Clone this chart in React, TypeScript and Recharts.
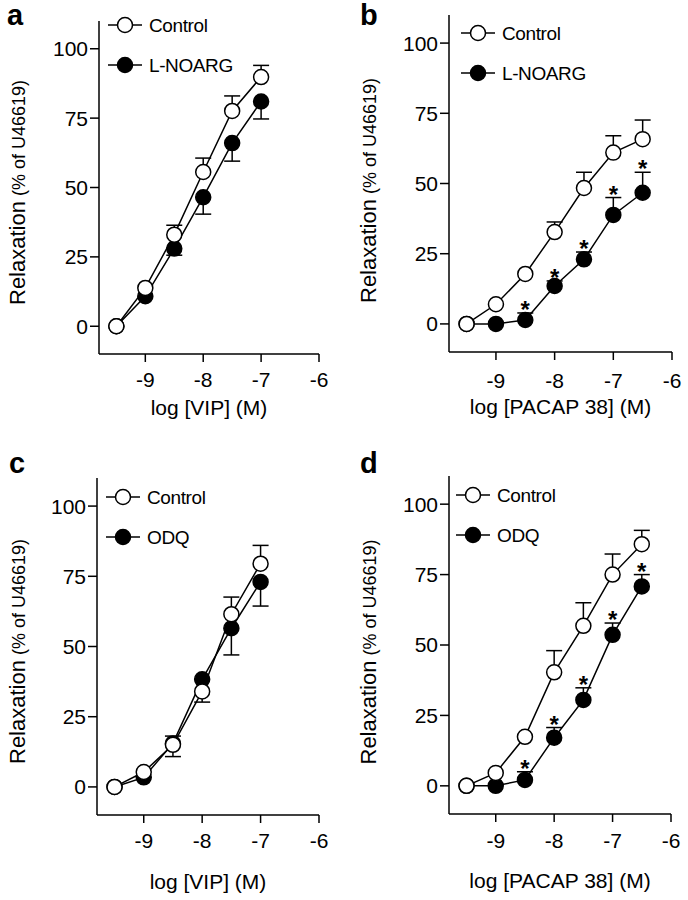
import {
  ComposedChart, Legend, Line, Scatter, XAxis, YAxis,
} from "recharts";

const FONT = '"Liberation Sans", Arial, Helvetica, sans-serif';

// log molar concentrations
const vipDoses = [-9.5, -9, -8.5, -8, -7.5, -7];
const pacapDoses = [-9.5, -9, -8.5, -8, -7.5, -7, -6.5];
const xTicks = [-9, -8, -7, -6];
const yTicks = [0, 25, 50, 75, 100];

// a: VIP, control vs L-NOARG
const aControl = [0, 13.8, 33, 55.6, 77.6, 89.8];
const aControlErr = [0, 0, 3.4, 5, 5.4, 4.2];
const aNoarg = [0, 10.8, 28, 46.5, 66, 81];
const aNoargErr = [0, 0, 2.4, 6.1, 6.5, 6.3];

// b: PACAP 38, control vs L-NOARG
const bControl = [0, 7, 17.8, 32.7, 48.4, 61, 65.8];
const bControlErr = [0, 0, 0, 3.6, 5.6, 6, 6.8];
const bNoarg = [0, 0, 1.4, 13.5, 23, 38.8, 46.7];
const bNoargErr = [0, 0, 2.5, 1.8, 2.6, 6.2, 7.3];
const bStars = [false, false, true, true, true, true, true];

// c: VIP, control vs ODQ
const cControl = [0, 5.3, 15, 34, 61.5, 79.5];
const cControlErr = [0, 0, 3.1, 0, 6.1, 6.5];
const cOdq = [0, 3.4, 15.5, 38.3, 56.5, 73];
const cOdqErr = [0, 0, 4.7, 8.1, 9.5, 8.6];

// d: PACAP 38, control vs ODQ
const dControl = [0, 4.6, 17.4, 40.3, 56.8, 75, 85.8];
const dControlErr = [0, 0, 0, 7.7, 8.2, 7.3, 4.9];
const dOdq = [0, 0, 2.1, 17.1, 30.5, 53.6, 70.8];
const dOdqErr = [0, 0, 2.9, 3.6, 4.3, 4.2, 4.2];
const dStars = [false, false, true, true, true, true, true];

type Geo = {
  left: number; top: number; h: number;
  plotL: number; plotR: number; plotT: number; plotB: number;
  tickGap: number; xLabelDy: number; yLabelX: number; yLabelDy: number;
  legX: number; legY: number;
};

type PanelProps = {
  xLabel: string;
  treatedName: string;
  doses: number[];
  control: number[];
  controlErr: number[];
  treated: number[];
  treatedErr: number[];
  treatedUp: boolean;
  stars?: boolean[];
  geo: Geo;
};

const W = 344;
const AXIS_H = 80;

function StarShape(props: any) {
  return (
    <text x={props.cx} y={props.cy + 5} textAnchor="middle" fontSize={24}
          fontWeight="bold" fontFamily={FONT} fill="#000">*</text>
  );
}

// the far end of an error bar gets a cap, the near end stays under the marker
function CapDot(props: any) {
  if (props.index !== 1) return <g key={props.key} />;
  return (
    <line key={props.key} x1={props.cx - 8} x2={props.cx + 8} y1={props.cy} y2={props.cy}
          stroke="#000" strokeWidth={1.5} />
  );
}

// one two-point segment per error bar: from the mean to mean ± SEM
function errSegments(doses: number[], mean: number[], err: number[], up: boolean, tag: string) {
  return doses
    .map((x, i) => ({
      key: `${tag}${i}`,
      err: err[i],
      data: [{ x, e: mean[i] }, { x, e: up ? mean[i] + err[i] : mean[i] - err[i] }],
    }))
    .filter((s) => s.err > 0);
}

function Panel(p: PanelProps) {
  const g = p.geo;
  const H = g.h;
  const rows = p.doses.map((x, i) => ({ x, control: p.control[i], treated: p.treated[i] }));
  const segs = [
    ...errSegments(p.doses, p.treated, p.treatedErr, p.treatedUp, "t"),
    ...errSegments(p.doses, p.control, p.controlErr, true, "c"),
  ];
  const starRows = p.stars
    ? p.doses
        .map((x, i) => ({ x, star: p.treated[i] + p.treatedErr[i], on: p.stars![i] }))
        .filter((r) => r.on)
    : [];

  const legendContent = () => {
    const items = [
      { name: "Control", fill: "#fff" },
      { name: p.treatedName, fill: "#000" },
    ];
    return (
      <svg width={170} height={70} style={{ display: "block" }}>
        {items.map((it, i) => {
          const cy = 12 + i * 40;
          return (
            <g key={it.name}>
              <line x1={3} x2={37} y1={cy} y2={cy} stroke="#000" strokeWidth={1.5} />
              <circle cx={20} cy={cy} r={7.5} fill={it.fill} stroke="#000" strokeWidth={1.5} />
              <text x={44} y={cy + 7} fontSize={19} fontFamily={FONT} fill="#000"
                    letterSpacing={-0.4}>{it.name}</text>
            </g>
          );
        })}
      </svg>
    );
  };

  const yLabel = (lp: any) => {
    const vb = lp.viewBox;
    const cy = vb.y + vb.height / 2 + g.yLabelDy;
    const bx = g.yLabelX;
    return (
      <text x={bx} y={cy} transform={`rotate(-90 ${bx} ${cy})`} textAnchor="middle"
            fontFamily={FONT} fill="#000">
        <tspan fontSize={22}>Relaxation</tspan>
        <tspan fontSize={18}> (% of U46619)</tspan>
      </text>
    );
  };

  const xLabel = (lp: any) => {
    const vb = lp.viewBox;
    return (
      <text x={vb.x + vb.width / 2} y={vb.y + g.xLabelDy} textAnchor="middle"
            fontSize={21} fontFamily={FONT} fill="#000">{p.xLabel}</text>
    );
  };

  const dotStyle = (fill: string) => ({ r: 7.5, fill, stroke: "#000", strokeWidth: 1.5 });

  return (
    <div style={{ position: "absolute", left: g.left, top: g.top, width: W, height: H }}>
      <ComposedChart width={W} height={H} data={rows}
        margin={{ top: g.plotT, right: W - g.plotR, left: 0, bottom: H - g.plotB - AXIS_H }}>
        <XAxis type="number" dataKey="x" domain={[-9.8, -6]} ticks={xTicks}
          allowDataOverflow height={AXIS_H} tickSize={8} tickMargin={g.tickGap}
          axisLine={{ stroke: "#000", strokeWidth: 1.5 }}
          tickLine={{ stroke: "#000", strokeWidth: 1.5 }}
          tick={{ fill: "#000", fontSize: 21, fontFamily: FONT }}
          label={xLabel} />
        <YAxis type="number" domain={[-10, 110]} ticks={yTicks} allowDataOverflow
          width={g.plotL} tickSize={9} tickMargin={2}
          axisLine={{ stroke: "#000", strokeWidth: 1.5 }}
          tickLine={{ stroke: "#000", strokeWidth: 1.5 }}
          tick={{ fill: "#000", fontSize: 21, fontFamily: FONT }}
          label={yLabel} />
        <Legend layout="vertical" align="center" verticalAlign="middle"
          wrapperStyle={{ left: g.legX, top: g.legY, width: 170, height: 70 }}
          content={legendContent} />
        {segs.map((s) => (
          <Line key={s.key} data={s.data} dataKey="e" type="linear" stroke="#000"
            strokeWidth={1.5} dot={CapDot} activeDot={false} legendType="none"
            isAnimationActive={false} />
        ))}
        <Line type="linear" dataKey="treated" name={p.treatedName} stroke="#000"
          strokeWidth={1.5} isAnimationActive={false} activeDot={false}
          dot={dotStyle("#000")} />
        <Line type="linear" dataKey="control" name="Control" stroke="#000"
          strokeWidth={1.5} isAnimationActive={false} activeDot={false}
          dot={dotStyle("#fff")} />
        {starRows.length > 0 && (
          <Scatter data={starRows} dataKey="star" shape={StarShape}
            legendType="none" isAnimationActive={false} />
        )}
      </ComposedChart>
    </div>
  );
}

const geoA: Geo = { left: 0, top: 0, h: 440, plotL: 99, plotR: 319, plotT: 21, plotB: 354,
  tickGap: 10, xLabelDy: 61, yLabelX: 25, yLabelDy: 5, legX: 105, legY: 13 };
const geoB: Geo = { left: 344, top: 0, h: 440, plotL: 105, plotR: 328, plotT: 15, plotB: 352,
  tickGap: 13, xLabelDy: 62, yLabelX: 32, yLabelDy: 7, legX: 114, legY: 21 };
const geoC: Geo = { left: 0, top: 440, h: 460, plotL: 97, plotR: 319, plotT: 38, plotB: 375,
  tickGap: 10, xLabelDy: 74, yLabelX: 25, yLabelDy: 5, legX: 103, legY: 45 };
const geoD: Geo = { left: 344, top: 440, h: 460, plotL: 105, plotR: 327, plotT: 36, plotB: 374,
  tickGap: 11, xLabelDy: 74, yLabelX: 32, yLabelDy: 7, legX: 109, legY: 43 };

const panelLetters = [
  { t: "a", x: 7, y: 25 },
  { t: "b", x: 360, y: 25 },
  { t: "c", x: 9, y: 473 },
  { t: "d", x: 360, y: 473 },
];

export default function App() {
  return (
    <div style={{ position: "absolute", left: 0, top: 0, width: 688, height: 900, background: "#fff" }}>
      <Panel xLabel="log [VIP] (M)" treatedName="L-NOARG" doses={vipDoses}
        control={aControl} controlErr={aControlErr} treated={aNoarg} treatedErr={aNoargErr}
        treatedUp={false} geo={geoA} />
      <Panel xLabel="log [PACAP 38] (M)" treatedName="L-NOARG" doses={pacapDoses}
        control={bControl} controlErr={bControlErr} treated={bNoarg} treatedErr={bNoargErr}
        treatedUp={true} stars={bStars} geo={geoB} />
      <Panel xLabel="log [VIP] (M)" treatedName="ODQ" doses={vipDoses}
        control={cControl} controlErr={cControlErr} treated={cOdq} treatedErr={cOdqErr}
        treatedUp={false} geo={geoC} />
      <Panel xLabel="log [PACAP 38] (M)" treatedName="ODQ" doses={pacapDoses}
        control={dControl} controlErr={dControlErr} treated={dOdq} treatedErr={dOdqErr}
        treatedUp={true} stars={dStars} geo={geoD} />
      <svg width={688} height={900} style={{ position: "absolute", left: 0, top: 0, pointerEvents: "none" }}>
        {panelLetters.map((l) => (
          <text key={l.t} x={l.x} y={l.y} fontFamily={FONT} fontWeight="bold" fontSize={29}
                fill="#000">{l.t}</text>
        ))}
      </svg>
    </div>
  );
}
